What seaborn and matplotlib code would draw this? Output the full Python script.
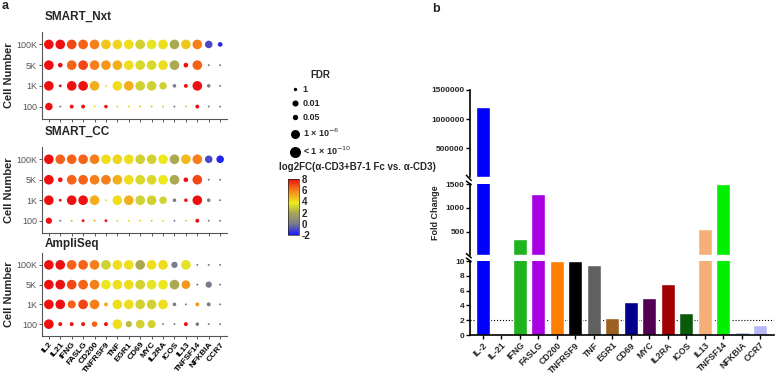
import numpy as np
import pandas as pd
import matplotlib
matplotlib.use('Agg')
import matplotlib.pyplot as plt
from matplotlib.colors import LinearSegmentedColormap, Normalize
from matplotlib.cm import ScalarMappable
from matplotlib.lines import Line2D
from matplotlib.ticker import StrMethodFormatter
import seaborn as sns

sns.set_theme(style='ticks')
plt.rcParams['font.family'] = ['Liberation Sans', 'DejaVu Sans']

# ---- panel a: dot plots ----
genes_a = ['IL2', 'IL21', 'IFNG', 'FASLG', 'CD200', 'TNFRSF9', 'TNF', 'EGR1',
           'CD69', 'MYC', 'IL2RA', 'ICOS', 'IL13', 'TNFSF14', 'NFKBIA', 'CCR7']
cells = ['100K', '5K', '1K', '100']

# log2FC per row (100K, 5K, 1K, 100)
nxt_fc = [[8, 8, 7, 6.5, 6, 4.5, 4.2, 4, 3, 3.5, 4, 2, 4.5, 6, -1, -1.8],
          [8, 8, 6.5, 7, 6, 5.5, 5, 4, 3.2, 3.2, 4, 2, 8, 6.5, 0, 0],
          [8, 8, 8, 8, 5, 4, 4, 5, 3, 3, 3, 0, 8, 8, 0, 0],
          [8, 0, 8, 8, 4, 8, 4, 4, 3, 3, 3, 0, 3, 8, 0, 0]]
# -log10(FDR)
nxt_fdr = [[10, 10, 10, 10, 10, 10, 10, 10, 10, 10, 10, 10, 10, 10, 6, 2],
           [10, 2, 10, 10, 10, 10, 10, 10, 10, 10, 10, 10, 2, 10, 0, 0],
           [10, 0.5, 10, 10, 10, 0, 10, 10, 10, 10, 6, 1, 1.3, 10, 1, 0],
           [6, 0, 1.3, 1.3, 0, 1, 0, 0, 0, 0, 0, 0, 0, 1.3, 0, 0]]

cc_fc = [[8, 6.5, 6.5, 6.5, 6, 4, 4.2, 4, 3, 3, 3.8, 2, 4.8, 6, -1, -1.8],
         [8, 8, 6.5, 6.5, 6, 6, 5, 4, 3.2, 3.2, 3.8, 2, 8, 7, 0, 0],
         [8, 8, 8, 8, 5, 4, 4, 5, 3, 3, 3, 0, 8, 8, 0, 0],
         [8, 0, 5, 8, 5, 8, 4, 4, 3, 3, 4, 0, 3, 8, 0, 0]]
cc_fdr = [[10, 10, 10, 10, 10, 10, 10, 10, 10, 10, 10, 10, 10, 10, 6, 6],
          [10, 2, 10, 10, 10, 10, 10, 10, 10, 10, 10, 10, 2, 10, 0, 0],
          [10, 0.5, 10, 10, 10, 0, 10, 10, 10, 10, 6, 1, 1, 10, 1, 0],
          [4, 0, 0, 0.5, 0, 0.5, 0, 0, 0, 0, 0, 0, 0, 1.3, 0, 0]]

ampli_fc = [[8, 8, 6.5, 6.5, 6, 3, 4, 4, 2, 4, 4, 0, 3.5, 0, 0, 0],
            [8, 8, 7, 6.5, 6, 3.8, 4, 4, 3, 3.5, 3.8, 2, 5.5, 0, 0, 0],
            [8, 8, 6.5, 7, 6, 5, 4, 4, 3, 3, 4, 0, 0, 5.5, 0, 0],
            [8, 8, 8, 8, 6.5, 8, 4, 2.5, 3, 3, 0, 0, 8, 0, 0, 0]]
ampli_fdr = [[10, 10, 10, 10, 10, 10, 10, 10, 10, 10, 10, 4, 10, 0, 0, 0],
             [10, 10, 10, 10, 10, 10, 10, 10, 10, 10, 10, 10, 8, 0, 4, 0],
             [10, 10, 7, 10, 10, 1.3, 10, 10, 10, 10, 10, 1, 0, 1.3, 1.3, 0],
             [10, 1.3, 1.3, 1.3, 3, 1.3, 10, 4, 8, 7, 0, 0, 1.3, 1, 0, 0]]

panel_titles = ['SMART_Nxt', 'SMART_CC', 'AmpliSeq']

fdr_labels = ['1', '0.01', '0.05', r'1 × 10$^{-6}$', r'< 1 × 10$^{-10}$']
fdr_levels = [0, 2, 1.3, 6, 10]

# ---- panel b: fold change bars ----
genes_b = ['IL-2', 'IL-21', 'IFNG', 'FASLG', 'CD200', 'TNFRSF9', 'TNF', 'EGR1',
           'CD69', 'MYC', 'IL2RA', 'ICOS', 'IL13', 'TNFSF14', 'NFKBIA', 'CCR7']
fold_change = [1210000, 0.1, 350, 1290, 10, 10, 9.4, 2.3,
               4.4, 5.0, 6.9, 3.0, 550, 1500, 0.4, 1.4]
bar_colors = ['#0000ff', '#8b1010', '#1fb31f', '#a800e0', '#ff8000', '#000000',
              '#606060', '#9c6020', '#00008b', '#520052', '#a00000', '#0a5a0a',
              '#f5b07a', '#00f000', '#a8bce8', '#b8b8f8']

cmap = LinearSegmentedColormap.from_list(
    'fc', [(0.0, '#1a1aff'), (0.2, '#7a7a8c'), (0.4, '#aaa850'),
           (0.57, '#ecec1e'), (0.78, '#f78a1a'), (1.0, '#ee1010')])

W, H = 776, 376
fig = plt.figure(figsize=(W / 100, H / 100), dpi=100)


def frac(x0, y0, x1, y1):
    return [x0 / W, 1 - y1 / H, (x1 - x0) / W, (y1 - y0) / H]


# dot plot panels
boxes = [(42, 32, 227, 119), (42, 147, 227, 233), (42, 253, 227, 336)]
title_y = [17, 132, 244]
for k, (fc, fdr) in enumerate([(nxt_fc, nxt_fdr), (cc_fc, cc_fdr), (ampli_fc, ampli_fdr)]):
    rows = []
    for i, c in enumerate(cells):
        for j, g in enumerate(genes_a):
            rows.append((g, c, fc[i][j], fdr[i][j]))
    df = pd.DataFrame(rows, columns=['gene', 'cells', 'log2fc', 'fdr'])
    ax = fig.add_axes(frac(*boxes[k]))
    sns.scatterplot(data=df, x='gene', y='cells', hue='log2fc', size='fdr',
                    palette=cmap, hue_norm=(-2, 8), sizes=(2, 48), size_norm=(0, 10),
                    linewidth=0, legend=False, ax=ax)
    ax.set_xlim(-0.6, 15.6)
    ax.set_ylim(3.6, -0.6)
    ax.set_xlabel('')
    ax.set_ylabel('')
    for s in ['top', 'right']:
        ax.spines[s].set_visible(False)
    for s in ['left', 'bottom']:
        ax.spines[s].set_color('#555555')
        ax.spines[s].set_linewidth(0.8)
    ax.tick_params(length=2.5, width=0.7, color='#555555', labelsize=6.5,
                   labelcolor='#555555', pad=1)
    if k < 2:
        ax.tick_params(labelbottom=False)
    else:
        ax.set_xticks(range(len(genes_a)))
        ax.set_xticklabels(genes_a, rotation=50, ha='right', rotation_mode='anchor',
                           fontsize=6, fontweight='bold', color='black')
    fig.text(45 / W, 1 - title_y[k] / H, panel_titles[k], fontsize=8.5,
             fontweight='bold', va='center')
    fig.text(9 / W, 1 - (boxes[k][1] + boxes[k][3]) / 2 / H, 'Cell Number',
             rotation=90, fontsize=8, fontweight='bold', ha='center', va='center')

fig.text(2 / W, 1 - 6 / H, 'a', fontsize=9, fontweight='bold', va='center')
fig.text(432 / W, 1 - 9 / H, 'b', fontsize=9, fontweight='bold', va='center')

# FDR legend
handles = [Line2D([], [], marker='o', linestyle='', color='black',
                  markersize=np.sqrt(2 + 4.6 * lv)) for lv in fdr_levels]
leg = fig.legend(handles, fdr_labels, title='FDR', loc='upper left',
                 bbox_to_anchor=(281 / W, 1 - 62 / H), frameon=False,
                 prop={'size': 6.5, 'weight': 'bold'}, labelspacing=0.55,
                 handletextpad=0.3, handlelength=1.2)
leg.get_title().set_fontweight('bold')
leg.get_title().set_fontsize(7)

# colorbar
cax = fig.add_axes(frac(288, 179, 299, 235))
cb = fig.colorbar(ScalarMappable(norm=Normalize(-2, 8), cmap=cmap), cax=cax)
cb.set_ticks([-2, 0, 2, 4, 6, 8])
cb.set_ticklabels(['-2', '0', '2', '4', '6', '8'])
cb.outline.set_linewidth(0.5)
cax.tick_params(length=0, labelsize=7, pad=2)
for t in cax.get_yticklabels():
    t.set_fontweight('bold')
fig.text(279 / W, 1 - 167 / H, 'log2FC(α-CD3+B7-1 Fc vs. α-CD3)', fontsize=7,
         fontweight='bold', va='center')

# broken-axis bar chart
bar_df = pd.DataFrame({'gene': genes_b, 'fc': fold_change})
pal = dict(zip(genes_b, bar_colors))
bar_boxes = [(470, 90, 774, 177), (470, 184, 774, 255), (470, 261, 774, 335)]
limits = [(1500, 1500000), (10, 1500), (0, 10)]
ticks = [[500000, 1000000, 1500000], [500, 1000, 1500], [0, 2, 4, 6, 8, 10]]
axes_b = []
for k in range(3):
    ax = fig.add_axes(frac(*bar_boxes[k]))
    if k == 2:
        ax.axhline(2, color='black', linestyle=':', linewidth=0.8, zorder=0)
    sns.barplot(data=bar_df, x='gene', y='fc', hue='gene', palette=pal, width=0.75,
                saturation=1, legend=False, ax=ax, zorder=2)
    ax.set_xlim(-0.7, 15.75)
    ax.set_ylim(*limits[k])
    ax.set_yticks(ticks[k])
    ax.yaxis.set_major_formatter(StrMethodFormatter('{x:.0f}'))
    ax.set_xlabel('')
    ax.set_ylabel('')
    for s in ['top', 'right']:
        ax.spines[s].set_visible(False)
    ax.spines['left'].set_linewidth(1.2)
    ax.spines['left'].set_color('black')
    ax.tick_params(axis='y', length=3, width=1, labelsize=6, pad=1, color='black')
    for t in ax.get_yticklabels():
        t.set_fontweight('bold')
    if k < 2:
        ax.spines['bottom'].set_visible(False)
        ax.tick_params(axis='x', bottom=False, labelbottom=False)
    else:
        ax.spines['bottom'].set_linewidth(1.2)
        ax.spines['bottom'].set_color('black')
        ax.tick_params(axis='x', length=3, width=1, color='black', pad=1)
        ax.set_xticks(range(len(genes_b)))
        ax.set_xticklabels(genes_b, rotation=45, ha='right', rotation_mode='anchor',
                           fontsize=6.3, fontweight='bold')
    # break marks on the left spine
    kw = dict(transform=ax.transAxes, color='black', linewidth=1.1, clip_on=False)
    if k > 0:
        ax.plot([-0.012, 0.004], [1.04, 0.99], **kw)
    if k < 2:
        ax.plot([-0.012, 0.004], [0.02, -0.04], **kw)
    axes_b.append(ax)

fig.text(435 / W, 1 - 213 / H, 'Fold Change', rotation=90, fontsize=6.5,
         fontweight='bold', ha='center', va='center')

fig.savefig('out.png', dpi=100)
